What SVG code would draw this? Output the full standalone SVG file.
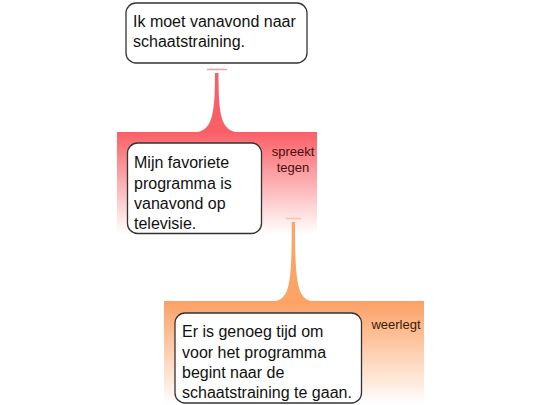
<svg xmlns="http://www.w3.org/2000/svg" width="540" height="405" viewBox="0 0 540 405">
<defs>
<linearGradient id="gRed" x1="0" y1="0" x2="0" y2="1">
<stop offset="0" stop-color="#f95f66"/>
<stop offset="1" stop-color="#ffffff"/>
</linearGradient>
<linearGradient id="gOrange" x1="0" y1="0" x2="0" y2="1">
<stop offset="0" stop-color="#fca064"/>
<stop offset="1" stop-color="#ffffff"/>
</linearGradient>
<linearGradient id="gRedEdge" x1="0" y1="0" x2="0" y2="1">
<stop offset="0" stop-color="#f45058"/>
<stop offset="1" stop-color="#f7a0a4"/>
</linearGradient>
<linearGradient id="gOrEdge" x1="0" y1="0" x2="0" y2="1">
<stop offset="0" stop-color="#f79a5a"/>
<stop offset="1" stop-color="#fbd6bb"/>
</linearGradient>
</defs>
<style>
.box{fill:#ffffff;stroke:#333333;stroke-width:1.3}
.t{font-family:"Liberation Sans",Arial,sans-serif;font-size:16px;fill:#111111}
.lbl{font-family:"Liberation Sans",Arial,sans-serif;font-size:13px;text-anchor:middle}
</style>
<rect width="540" height="405" fill="#ffffff"/>
<g id="band-red">
<rect x="117" y="132" width="200" height="102" fill="url(#gRed)"/>
<line x1="117.5" y1="132" x2="117.5" y2="234" stroke="url(#gRedEdge)" stroke-width="1.5"/>
<line x1="316.5" y1="132" x2="316.5" y2="234" stroke="url(#gRedEdge)" stroke-width="1.5"/>
<text class="lbl" x="293" y="156" fill="#4a0d0d">spreekt</text>
<text class="lbl" x="293" y="172" fill="#4a0d0d">tegen</text>
</g>
<g id="band-orange">
<rect x="164" y="301" width="260" height="104" fill="url(#gOrange)"/>
<line x1="164.5" y1="301" x2="164.5" y2="405" stroke="url(#gOrEdge)" stroke-width="1.5"/>
<line x1="423.5" y1="301" x2="423.5" y2="405" stroke="url(#gOrEdge)" stroke-width="1.5"/>
<text class="lbl" x="396" y="329" fill="#3a1c05">weerlegt</text>
</g>
<g id="connectors">
<line x1="207" y1="69.5" x2="227" y2="69.5" stroke="#f79aa0" stroke-width="1.5"/>
<path d="M215,73 L218.5,73 C218.5,116 221,130 238,132.5 L195.5,132.5 C212,130 215,116 215,73 Z" fill="#f95f67"/>
<line x1="286" y1="218.5" x2="301" y2="218.5" stroke="#fcc49a" stroke-width="1.5"/>
<path d="M291.8,222 L295,222 C295,285 297.5,299 313,301.5 L274,301.5 C289.5,299 291.8,285 291.8,222 Z" fill="#fca466"/>
</g>
<g id="node1">
<rect class="box" x="126" y="3" width="181" height="60" rx="10"/>
<text class="t" x="133" y="27">Ik moet vanavond naar</text>
<text class="t" x="133" y="47">schaatstraining.</text>
</g>
<g id="node2">
<rect class="box" x="127.5" y="143" width="134" height="90.5" rx="10"/>
<text class="t" x="134" y="168">Mijn favoriete</text>
<text class="t" x="134" y="188.5">programma is</text>
<text class="t" x="134" y="209">vanavond op</text>
<text class="t" x="134" y="229">televisie.</text>
</g>
<g id="node3">
<rect class="box" x="175" y="313" width="186.5" height="90" rx="10"/>
<text class="t" x="182" y="337">Er is genoeg tijd om</text>
<text class="t" x="182" y="357.5">voor het programma</text>
<text class="t" x="182" y="378">begint naar de</text>
<text class="t" x="182" y="398">schaatstraining te gaan.</text>
</g>
</svg>
